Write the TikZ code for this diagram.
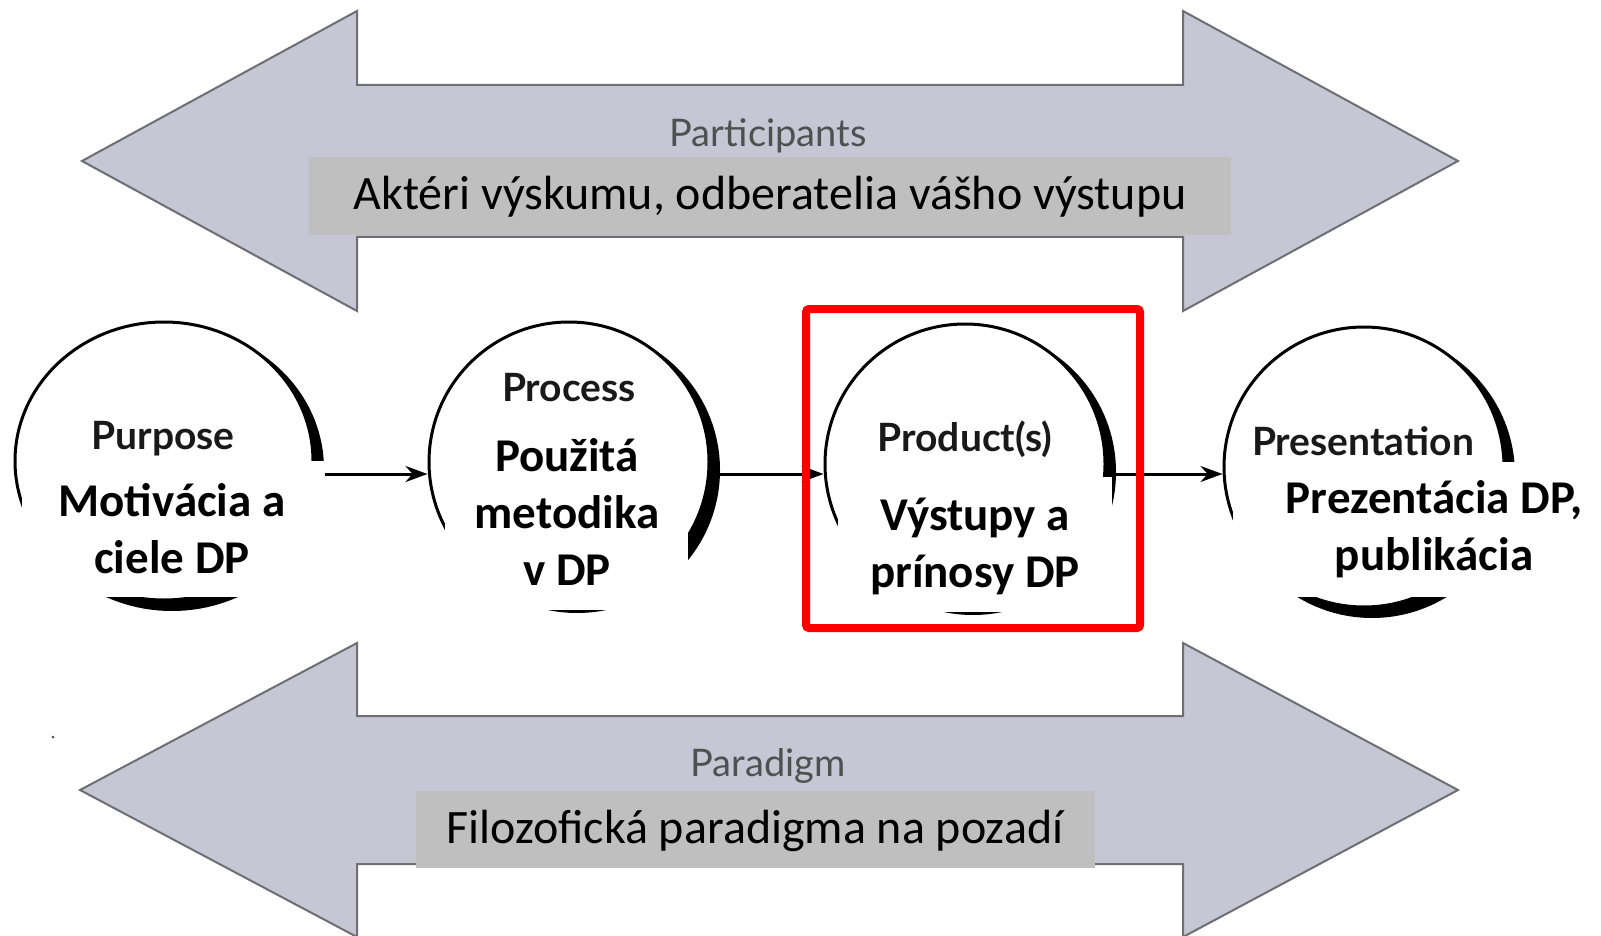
\documentclass[tikz,border=0pt]{standalone}
\usepackage{fontspec}
\setmainfont{Carlito}
\newfontfamily\gill{Lato}
\usetikzlibrary{shapes.geometric,arrows.meta}
\definecolor{arrowfill}{RGB}{198,198,212}
\definecolor{arrowline}{RGB}{110,110,115}
\definecolor{boxgray}{RGB}{191,191,191}
\definecolor{redframe}{RGB}{255,0,0}
\definecolor{labelgray}{RGB}{80,80,80}
\definecolor{labeldark}{RGB}{25,25,25}
\tikzset{
  bigarrow/.style={fill=arrowfill,draw=arrowline,line width=2pt,line join=miter},
  graybox/.style={fill=boxgray,draw=none},
  boxtext/.style={font=\fontsize{48}{58}\selectfont,text=black,inner sep=0pt},
  bandlabel/.style={font=\gill\fontsize{38}{38}\selectfont,text=labelgray,inner sep=0pt},
  stage/.style={ellipse,fill=white,draw=black,line width=3pt,inner sep=0pt},
  stageshadow/.style={ellipse,fill=black,draw=none,inner sep=0pt},
  stagelabel/.style={font=\gill\bfseries\fontsize{39}{39}\selectfont,text=labeldark,inner sep=0pt},
  wbox/.style={fill=white,draw=none,inner sep=0pt},
  stagetext/.style={font=\bfseries\fontsize{47}{57}\selectfont,text=black,align=center,inner sep=0pt},
  conn/.style={line width=3pt,-{Stealth[length=22pt,width=16pt]}},
  focus/.style={draw=redframe,line width=8pt,rounded corners=3pt}
}
\begin{document}
\begin{tikzpicture}[x=1pt,y=-1pt]
\useasboundingbox (0,0) rectangle (1601,936);
\fill[white] (0,0) rectangle (1601,936);

% background double arrows
\draw[bigarrow] (82,161) -- (357,11) -- (357,85) -- (1183,85) -- (1183,11) -- (1458,161)
  -- (1183,311) -- (1183,237) -- (357,237) -- (357,311) -- cycle;
\draw[bigarrow] (80,790) -- (357,643) -- (357,716) -- (1183,716) -- (1183,643) -- (1458,790)
  -- (1183,937) -- (1183,864) -- (357,864) -- (357,937) -- cycle;

\node[bandlabel] (participants) at (768,136) {Participants};
\node[graybox,minimum width=922,minimum height=78] (topbox) at (770,196.5) {};
\node[boxtext] (toptext) at (770,197) {Aktéri výskumu, odberatelia vášho výstupu};

\node[bandlabel] (paradigm) at (768,766) {Paradigm};
\node[graybox,minimum width=679,minimum height=77] (botbox) at (755.5,829.5) {};
\node[boxtext] (bottext) at (755,831) {Filozofická paradigma na pozadí};

\fill[labelgray] (53,737) circle (1.5);

% stages
\node[stageshadow,minimum width=304,minimum height=284] (s1) at (172,469) {};
\node[stage,minimum width=298,minimum height=278] (c1) at (164,461) {};
\node[stageshadow,minimum width=286,minimum height=286] (s2) at (577,470) {};
\node[stage,minimum width=280,minimum height=280] (c2) at (569,462) {};
\node[stageshadow,minimum width=286,minimum height=286] (s3) at (973,472) {};
\node[stage,minimum width=280,minimum height=280] (c3) at (965,464) {};
\node[stageshadow,minimum width=286,minimum height=286] (s4) at (1372,475) {};
\node[stage,minimum width=280,minimum height=280] (c4) at (1364,467) {};

\node[stagelabel] (l1) at (163,439) {Purpose};
\node[stagelabel,font=\gill\bfseries\fontsize{39}{39}\selectfont] (l2) at (569,388) {Process};
\node[stagelabel] (l3) at (965,439) {Product(s)};
\node[stagelabel] (l4) at (1363,441) {Presentation};

% connectors
\coordinate (ay) at (0,474);
\draw[conn] (s1.east |- ay) -- (c2.west |- ay);
\draw[conn] (s2.east |- ay) -- (c3.west |- ay);
\draw[conn] (s3.east |- ay) -- (c4.west |- ay);

% white overlays with text
\node[wbox,minimum width=303,minimum height=136] (w1) at (173.5,529) {};
\node[stagetext] (t1) at (172,529) {Motivácia a\\ciele DP};
\node[wbox,minimum width=243,minimum height=197] (w2) at (566.5,511.5) {};
\node[stagetext] (t2) at (567,512) {Použitá\\metodika\\v DP};
\node[wbox,minimum width=274,minimum height=135] (w3) at (975,544.5) {};
\node[stagetext] (t3) at (975,546) {Výstupy a\\prínosy DP};
\node[wbox,minimum width=368,minimum height=135] (w4) at (1417,529.5) {};
\node[stagetext] (t4) at (1434,529) {Prezentácia DP,\\publikácia};

% highlight frame
\draw[focus] (806,309) rectangle (1140,628);
\end{tikzpicture}
\end{document}
